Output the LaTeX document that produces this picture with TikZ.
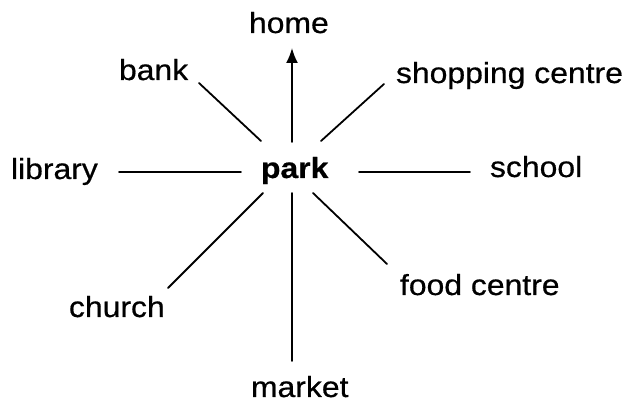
\documentclass[tikz,border=0pt]{standalone}
\usepackage{fontspec}
\setmainfont{Liberation Sans}[FakeStretch=1.1,FakeBold=0.6]
\usetikzlibrary{arrows.meta}
\begin{document}
\begin{tikzpicture}[x=1pt,y=-1pt,
  lbl/.style={anchor=base west,inner sep=0pt,outer sep=0pt,font=\fontsize{29}{35}\selectfont},
  link/.style={line width=1.8pt,line cap=round},
  arrowlink/.style={link,-{Latex[length=15pt,width=12pt]}}]
\useasboundingbox (0,0) rectangle (627,403);
% labels
\node[lbl] (home) at (249,33) {home};
\node[lbl] (bank) at (119,80) {bank};
\node[lbl] (shop) at (396,83) {shopping centre};
\node[lbl] (library) at (11,179) {library};
\node[lbl,font=\fontsize{29}{35}\selectfont\bfseries] (park) at (261,178) {park};
\node[lbl] (school) at (490,177) {school};
\node[lbl] (church) at (69,317) {church};
\node[lbl] (food) at (400,295) {food centre};
\node[lbl] (market) at (251,397) {market};
% connector ends
\coordinate (pN) at (292,142);
\coordinate (homeE) at (292,48);
\coordinate (pNW) at (261,141);
\coordinate (bankE) at (199,83);
\coordinate (pNE) at (321,141);
\coordinate (shopE) at (384,84);
\coordinate (pW) at (241,172);
\coordinate (libraryE) at (119,172);
\coordinate (pE) at (359,172);
\coordinate (schoolE) at (470,172);
\coordinate (pSW) at (263,193);
\coordinate (churchE) at (168,288);
\coordinate (pS) at (292,193);
\coordinate (marketE) at (292,361);
\coordinate (pSE) at (313,193);
\coordinate (foodE) at (387,264);
% connectors
\draw[arrowlink] (pN) -- (homeE);
\draw[link] (pNW) -- (bankE);
\draw[link] (pNE) -- (shopE);
\draw[link] (pW) -- (libraryE);
\draw[link] (pE) -- (schoolE);
\draw[link] (pSW) -- (churchE);
\draw[link] (pS) -- (marketE);
\draw[link] (pSE) -- (foodE);
\end{tikzpicture}
\end{document}
